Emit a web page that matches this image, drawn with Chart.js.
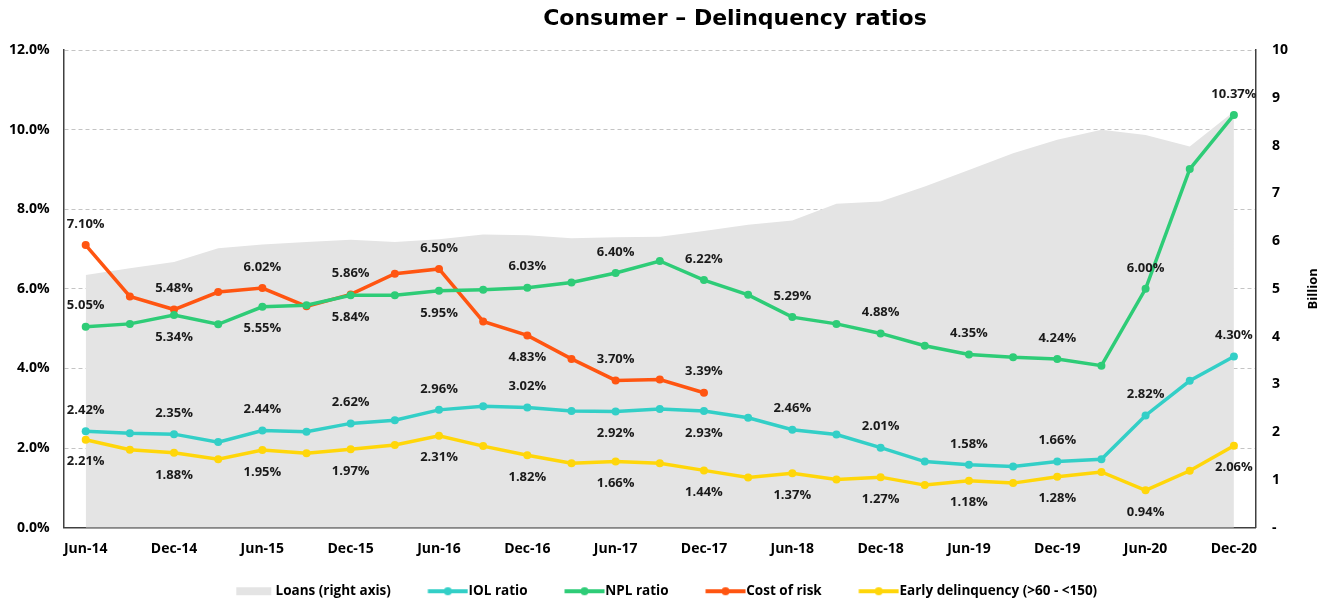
<!DOCTYPE html>
<html>
<head>
<meta charset="utf-8">
<script src="https://cdn.jsdelivr.net/npm/chart.js@4.4.1/dist/chart.umd.min.js"></script>
<style>
  html, body { margin: 0; padding: 0; background: #fff; }
  #wrap { position: relative; width: 1324px; height: 600px; }
  #title {
    position: absolute; left: 0; top: 5px; width: 1470px;
    text-align: center; font: bold 22px "DejaVu Sans", sans-serif; color: #000;
  }
</style>
</head>
<body>
<div id="wrap">
  <canvas id="chart" width="1324" height="600"></canvas>
  <div id="title">Consumer – Delinquency ratios</div>
</div>
<script>
// Consumer delinquency ratios, quarterly Jun-14 .. Dec-20

var quarters = [
    "Jun-14", "Sep-14", "Dec-14", "Mar-15", "Jun-15", "Sep-15", "Dec-15",
    "Mar-16", "Jun-16", "Sep-16", "Dec-16", "Mar-17", "Jun-17", "Sep-17",
    "Dec-17", "Mar-18", "Jun-18", "Sep-18", "Dec-18", "Mar-19", "Jun-19",
    "Sep-19", "Dec-19", "Mar-20", "Jun-20", "Sep-20", "Dec-20"
];

// loans, billion (right axis)
var loans = [
    5.29, 5.43, 5.56, 5.85, 5.93, 5.98, 6.03, 5.98, 6.04, 6.14, 6.12, 6.06, 6.08, 6.09,
    6.21, 6.34, 6.43, 6.78, 6.83, 7.14, 7.49, 7.84, 8.12, 8.33, 8.22, 7.98, 8.71
];

var iolRatio = [
    2.42, 2.37, 2.35, 2.15, 2.44, 2.41, 2.62, 2.70, 2.96, 3.05, 3.02, 2.93, 2.92, 2.98,
    2.93, 2.76, 2.46, 2.34, 2.01, 1.66, 1.58, 1.54, 1.66, 1.72, 2.82, 3.69, 4.30
];

var nplRatio = [
    5.05, 5.12, 5.34, 5.11, 5.55, 5.59, 5.84, 5.84, 5.95, 5.98, 6.03, 6.16, 6.40, 6.70,
    6.22, 5.85, 5.29, 5.12, 4.88, 4.57, 4.35, 4.28, 4.24, 4.07, 6.00, 9.01, 10.37
];

var costOfRisk = [
    7.10, 5.81, 5.48, 5.92, 6.02, 5.56, 5.86, 6.38, 6.50, 5.18, 4.83, 4.24, 3.70, 3.72,
    3.39, null, null, null, null, null, null, null, null, null, null, null, null
];

var earlyDelinquency = [
    2.21, 1.96, 1.88, 1.72, 1.95, 1.87, 1.97, 2.08, 2.31, 2.05, 1.82, 1.62, 1.66, 1.62,
    1.44, 1.26, 1.37, 1.21, 1.27, 1.07, 1.18, 1.12, 1.28, 1.40, 0.94, 1.43, 2.06
];

var leftTicks = [0, 2, 4, 6, 8, 10, 12];
var rightTicks = [0, 1, 2, 3, 4, 5, 6, 7, 8, 9, 10];

// which labelled points put their value under the marker
var labelsBelow = {
    npl: [2, 4, 6, 8],
    cor: [10],
    iol: [12, 14],
    early: "all"
};

var FONT = "'Open Sans', sans-serif";

// legend swatch; transparent left part gives the gap between legend items
function legendIcon(color, isBox) {
    var c = document.createElement("canvas");
    c.width = 80;
    c.height = 12;
    var g = c.getContext("2d");
    g.fillStyle = color;
    if (isBox) {
        g.fillRect(41, 2, 35, 8);
    } else {
        g.strokeStyle = color;
        g.lineWidth = 4;
        g.beginPath();
        g.moveTo(39.5, 6);
        g.lineTo(79.5, 6);
        g.stroke();
        g.beginPath();
        g.arc(59.5, 6, 4, 0, Math.PI * 2);
        g.fill();
    }
    return c;
}

function lineSet(label, data, color, key) {
    return {
        type: "line",
        label: label,
        data: data,
        yAxisID: "y",
        borderColor: color,
        backgroundColor: color,
        borderWidth: 3.5,
        pointRadius: 4,
        pointHoverRadius: 4,
        pointBackgroundColor: color,
        pointBorderWidth: 0,
        tension: 0,
        spanGaps: false,
        fill: false,
        order: 1,
        labelKey: key
    };
}

var valueLabels = {
    id: "valueLabels",
    afterDatasetsDraw: function (chart) {
        var ctx = chart.ctx;
        ctx.save();
        ctx.font = "bold 13px " + FONT;
        ctx.fillStyle = "#1a1a1a";
        ctx.textAlign = "center";
        ctx.textBaseline = "middle";
        chart.data.datasets.forEach(function (ds, di) {
            if (!ds.labelKey) return;
            var meta = chart.getDatasetMeta(di);
            var below = labelsBelow[ds.labelKey];
            ds.data.forEach(function (v, i) {
                if (v === null || i % 2 !== 0) return;
                var pt = meta.data[i];
                var isBelow = below === "all" || below.indexOf(i) >= 0;
                var y = pt.y + (isBelow ? 22 : -21);
                ctx.fillText(v.toFixed(2) + "%", pt.x, y);
            });
        });
        // right axis title
        var y1 = chart.scales.y1;
        ctx.translate(y1.right + 9, (chart.chartArea.top + chart.chartArea.bottom) / 2);
        ctx.rotate(-Math.PI / 2);
        ctx.font = "bold 13px " + FONT;
        ctx.fillStyle = "#000";
        ctx.fillText("Billion", 0, 0);
        ctx.restore();
    }
};

var chart = new Chart(document.getElementById("chart"), {
    data: {
        labels: quarters,
        datasets: [
            {
                type: "line",
                label: "Loans (right axis)",
                data: loans,
                yAxisID: "y1",
                fill: "origin",
                backgroundColor: "#e4e4e4",
                borderColor: "#e4e4e4",
                borderWidth: 0,
                pointRadius: 0,
                pointHoverRadius: 0,
                tension: 0,
                order: 5
            },
            lineSet("IOL ratio", iolRatio, "#33cfc7", "iol"),
            lineSet("NPL ratio", nplRatio, "#2ecc77", "npl"),
            lineSet("Cost of risk", costOfRisk, "#ff5511", "cor"),
            lineSet("Early delinquency (>60 - <150)", earlyDelinquency, "#ffd60a", "early")
        ]
    },
    options: {
        responsive: false,
        animation: false,
        events: [],
        layout: {
            padding: { top: 50, left: -5, right: 20, bottom: -8 }
        },
        scales: {
            x: {
                type: "category",
                offset: true,
                grid: { display: false, drawTicks: false },
                border: { display: true, color: "#404040", width: 1.5 },
                ticks: {
                    autoSkip: false,
                    maxRotation: 0,
                    padding: 13,
                    color: "#000",
                    font: { family: FONT, size: 14, weight: "bold" },
                    callback: function (v, i) {
                        return i % 2 === 0 ? quarters[i] : "";
                    }
                },
                afterFit: function (s) {
                    s.height += 10;
                }
            },
            y: {
                position: "left",
                min: leftTicks[0],
                max: leftTicks[leftTicks.length - 1],
                afterBuildTicks: function (s) {
                    s.ticks = leftTicks.map(function (v) { return { value: v }; });
                },
                grid: { color: "#c4c4c4", lineWidth: 1, drawTicks: false },
                border: { display: true, color: "#404040", width: 1.5, dash: [4, 3] },
                ticks: {
                    padding: 14,
                    color: "#000",
                    font: { family: FONT, size: 14, weight: "bold" },
                    callback: function (v) { return v.toFixed(1) + "%"; }
                },
                z: 1
            },
            y1: {
                position: "right",
                min: rightTicks[0],
                max: rightTicks[rightTicks.length - 1],
                afterBuildTicks: function (s) {
                    s.ticks = rightTicks.map(function (v) { return { value: v }; });
                },
                grid: { drawOnChartArea: false, drawTicks: false },
                border: { display: true, color: "#404040", width: 1.5 },
                ticks: {
                    padding: 16,
                    color: "#000",
                    font: { family: FONT, size: 14, weight: "bold" },
                    callback: function (v) { return v === 0 ? "-" : String(v); }
                }
            }
        },
        plugins: {
            title: { display: false },
            tooltip: { enabled: false },
            legend: {
                position: "bottom",
                labels: {
                    usePointStyle: true,
                    pointStyleWidth: 67,
                    padding: 4,
                    color: "#000",
                    font: { family: FONT, size: 13.5, weight: "bold" },
                    generateLabels: function (c) {
                        return c.data.datasets.map(function (ds, i) {
                            return {
                                text: ds.label,
                                datasetIndex: i,
                                pointStyle: legendIcon(ds.backgroundColor, i === 0),
                                fillStyle: ds.backgroundColor,
                                strokeStyle: ds.backgroundColor,
                                lineWidth: 0,
                                hidden: false,
                                fontColor: "#000"
                            };
                        });
                    }
                }
            }
        }
    },
    plugins: [valueLabels]
});
</script>
</body>
</html>
